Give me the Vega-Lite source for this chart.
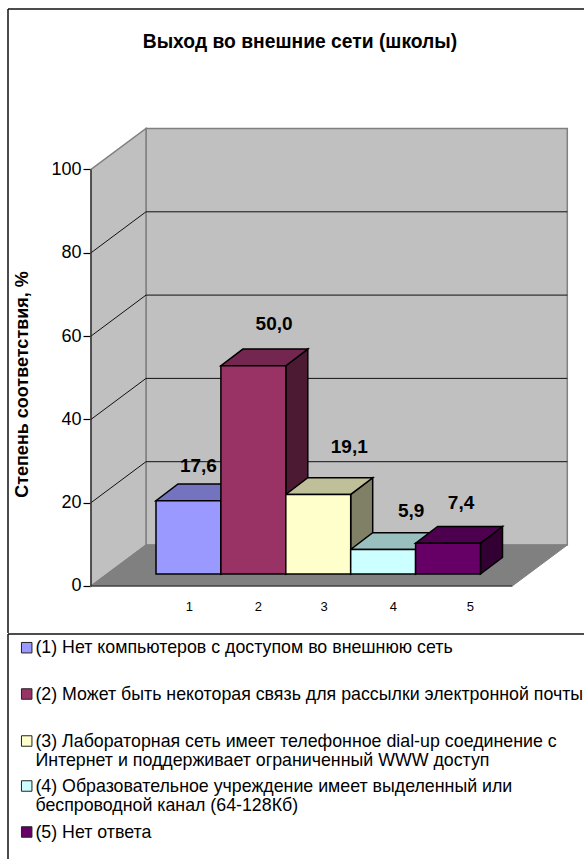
{
  "$schema": "https://vega.github.io/schema/vega-lite/v6.json",
  "padding": {"left": 7, "top": 8, "right": 0, "bottom": 0},
  "spacing": -1,
  "background": "white",
  "config": {"view": {"stroke": null}, "font": "Liberation Sans"},
  "datasets": {
    "responses": [
      {"category": 1, "value": 17.6, "text": "(1) Нет компьютеров с доступом во внешнюю сеть"},
      {"category": 2, "value": 50.0, "text": "(2) Может быть некоторая связь для рассылки электронной почты"},
      {"category": 3, "value": 19.1, "text": "(3) Лабораторная сеть имеет телефонное dial-up соединение с\nИнтернет и поддерживает ограниченный WWW доступ"},
      {"category": 4, "value": 5.9, "text": "(4) Образовательное учреждение имеет выделенный или\nбеспроводной канал (64-128Кб)"},
      {"category": 5, "value": 7.4, "text": "(5) Нет ответа"}
    ],
    "gridLevels": [{"level": 20}, {"level": 40}, {"level": 60}, {"level": 80}],
    "depthEnds": [{"end": 0}, {"end": 1}],
    "floorCorners": [{"corner": 0}, {"corner": 1}, {"corner": 2}, {"corner": 3}],
    "single": [{"n": 1}]
  },
  "vconcat": [
    {
      "width": 576,
      "height": 624,
      "title": {
        "text": "Выход во внешние сети (школы)",
        "font": "Liberation Sans",
        "fontSize": 19.3,
        "fontWeight": "bold",
        "color": "black",
        "anchor": "middle",
        "offset": -44,
        "dx": 4
      },
      "layer": [
        {
          "data": {"name": "single"},
          "transform": [
            {"calculate": "0.594", "as": "left"},
            {"calculate": "7.0855", "as": "right"},
            {"calculate": "9.844", "as": "low"},
            {"calculate": "109.844", "as": "high"}
          ],
          "mark": {"type": "rect", "fill": "#c0c0c0", "stroke": "#808080", "strokeWidth": 1.5},
          "encoding": {
            "x": {"field": "left", "type": "quantitative", "scale": {"domain": [-1.5324, 7.3428], "nice": false, "zero": false}, "axis": null},
            "x2": {"field": "right"},
            "y": {
              "field": "low",
              "type": "quantitative",
              "scale": {"domain": [-11.285, 138.535], "nice": false, "zero": false},
              "axis": {
                "values": [0, 20, 40, 60, 80, 100],
                "offset": -83,
                "orient": "left",
                "domain": false,
                "grid": false,
                "tickColor": "black",
                "tickSize": 8,
                "tickWidth": 1.2,
                "labelFontSize": 18,
                "labelColor": "black",
                "labelPadding": 2,
                "title": "Степень соответствия, %",
                "titleFontSize": 18,
                "titleFontWeight": "bold",
                "titleColor": "black",
                "titleX": -69,
                "titleY": 375,
                "titleAngle": -90,
                "titleAlign": "center",
                "titleBaseline": "middle"
              }
            },
            "y2": {"field": "high"}
          }
        },
        {
          "data": {"name": "depthEnds"},
          "transform": [
            {"calculate": "-0.2535 + datum.end * 0.8475", "as": "wallX"},
            {"calculate": "datum.end * 9.844", "as": "wallLow"},
            {"calculate": "100 + datum.end * 9.844", "as": "wallHigh"}
          ],
          "mark": {"type": "area", "fill": "#c0c0c0", "stroke": "#808080", "strokeWidth": 1.5},
          "encoding": {
            "x": {"field": "wallX", "type": "quantitative", "axis": null},
            "y": {"field": "wallLow", "type": "quantitative"},
            "y2": {"field": "wallHigh"}
          }
        },
        {
          "data": {"name": "floorCorners"},
          "transform": [
            {"calculate": "-0.2535 + (datum.corner >= 2 ? 6.4915 : 0) + (datum.corner % 2 ? 0.8475 : 0)", "as": "floorX"},
            {"calculate": "datum.corner == 3 ? 9.844 : 0", "as": "floorLow"},
            {"calculate": "datum.corner == 0 ? 0 : 9.844", "as": "floorHigh"}
          ],
          "mark": {"type": "area", "fill": "#808080", "stroke": "#808080", "strokeWidth": 1},
          "encoding": {
            "x": {"field": "floorX", "type": "quantitative", "axis": null},
            "y": {"field": "floorLow", "type": "quantitative"},
            "y2": {"field": "floorHigh"}
          }
        },
        {
          "data": {"name": "depthEnds"},
          "transform": [
            {"calculate": "[20, 40, 60, 80]", "as": "level"},
            {"flatten": ["level"]},
            {"calculate": "-0.2535 + datum.end * 0.8475", "as": "gridX"},
            {"calculate": "datum.level + datum.end * 9.844", "as": "gridY"}
          ],
          "mark": {"type": "line", "color": "#111111", "strokeWidth": 1},
          "encoding": {
            "x": {"field": "gridX", "type": "quantitative", "axis": null},
            "y": {"field": "gridY", "type": "quantitative"},
            "detail": {"field": "level"}
          }
        },
        {
          "data": {"name": "gridLevels"},
          "transform": [
            {"calculate": "datum.level + 9.844", "as": "backLevel"},
            {"calculate": "0.594", "as": "from"},
            {"calculate": "7.0855", "as": "to"}
          ],
          "mark": {"type": "rule", "color": "#111111", "strokeWidth": 1},
          "encoding": {
            "x": {"field": "from", "type": "quantitative", "axis": null},
            "x2": {"field": "to"},
            "y": {"field": "backLevel", "type": "quantitative"}
          }
        },
        {
          "data": {"name": "single"},
          "transform": [
            {"calculate": "-0.2535", "as": "frontLeft"},
            {"calculate": "0", "as": "zero"},
            {"calculate": "100", "as": "hundred"}
          ],
          "mark": {"type": "rule", "color": "#222222", "strokeWidth": 1.2},
          "encoding": {
            "x": {"field": "frontLeft", "type": "quantitative", "axis": null},
            "y": {"field": "zero", "type": "quantitative"},
            "y2": {"field": "hundred"}
          }
        },
        {
          "data": {"name": "single"},
          "transform": [
            {"calculate": "-0.2535", "as": "frontLeft"},
            {"calculate": "6.238", "as": "frontRight"},
            {"calculate": "0", "as": "zero"}
          ],
          "mark": {"type": "rule", "color": "#222222", "strokeWidth": 1.2},
          "encoding": {
            "x": {"field": "frontLeft", "type": "quantitative", "axis": null},
            "x2": {"field": "frontRight"},
            "y": {"field": "zero", "type": "quantitative"}
          }
        },
        {
          "data": {"name": "responses"},
          "transform": [
            {"calculate": "[0, 1]", "as": "end"},
            {"flatten": ["end"]},
            {"calculate": "datum.category + 0.5 + 0.248 + datum.end * 0.339", "as": "sideX"},
            {"calculate": "2.88 + datum.end * 4.01", "as": "sideLow"},
            {"calculate": "datum.value + 2.88 + datum.end * 4.01", "as": "sideHigh"},
            {"calculate": "datum.category + '|side'", "as": "shade"}
          ],
          "mark": {"type": "area", "stroke": "black", "strokeWidth": 1.5},
          "encoding": {
            "x": {"field": "sideX", "type": "quantitative", "axis": null},
            "y": {"field": "sideLow", "type": "quantitative"},
            "y2": {"field": "sideHigh"},
            "detail": {"field": "category"},
            "fill": {"field": "shade", "type": "nominal", "legend": null, "scale": {
              "domain": ["1|front", "2|front", "3|front", "4|front", "5|front", "1|top", "2|top", "3|top", "4|top", "5|top", "1|side", "2|side", "3|side", "4|side", "5|side"],
              "range": ["#9999ff", "#993366", "#ffffcc", "#ccffff", "#660066", "#7373bf", "#732650", "#bfbf99", "#99bfbf", "#4d004d", "#4d4d80", "#4d1a33", "#808066", "#668080", "#330033"]
            }}
          }
        },
        {
          "data": {"name": "responses"},
          "transform": [
            {"calculate": "[0, 1, 2, 3]", "as": "corner"},
            {"flatten": ["corner"]},
            {"calculate": "datum.category - 0.5 + 0.248 + (datum.corner >= 2 ? 1 : 0) + (datum.corner % 2 ? 0.339 : 0)", "as": "topX"},
            {"calculate": "datum.value + 2.88 + (datum.corner == 3 ? 4.01 : 0)", "as": "topLow"},
            {"calculate": "datum.value + 2.88 + (datum.corner == 0 ? 0 : 4.01)", "as": "topHigh"},
            {"calculate": "datum.category + '|top'", "as": "shade"}
          ],
          "mark": {"type": "area", "stroke": "black", "strokeWidth": 1.5},
          "encoding": {
            "x": {"field": "topX", "type": "quantitative", "axis": null},
            "y": {"field": "topLow", "type": "quantitative"},
            "y2": {"field": "topHigh"},
            "detail": {"field": "category"},
            "fill": {"field": "shade", "type": "nominal", "legend": null}
          }
        },
        {
          "data": {"name": "responses"},
          "transform": [
            {"calculate": "datum.category - 0.5 + 0.248", "as": "frontLeft"},
            {"calculate": "datum.category + 0.5 + 0.248", "as": "frontRight"},
            {"calculate": "2.88", "as": "frontBase"},
            {"calculate": "datum.value + 2.88", "as": "frontTop"},
            {"calculate": "datum.category + '|front'", "as": "shade"}
          ],
          "mark": {"type": "rect", "stroke": "black", "strokeWidth": 1.5},
          "encoding": {
            "x": {"field": "frontLeft", "type": "quantitative", "axis": null},
            "x2": {"field": "frontRight"},
            "y": {"field": "frontBase", "type": "quantitative"},
            "y2": {"field": "frontTop"},
            "fill": {"field": "shade", "type": "nominal", "legend": null}
          }
        },
        {
          "data": {"name": "responses"},
          "transform": [
            {"calculate": "datum.category + 0.248 + [0.154, 0.319, 0.478, 0.431, 0.2][datum.category - 1]", "as": "labelX"},
            {"calculate": "datum.value + 2.88 + [8.4, 10.08, 11.28, 9.12, 9.72][datum.category - 1]", "as": "labelY"},
            {"calculate": "replace(format(datum.value, '.1f'), '.', ',')", "as": "label"}
          ],
          "mark": {"type": "text", "fontSize": 19, "fontWeight": "bold", "color": "black", "align": "center", "baseline": "middle"},
          "encoding": {
            "x": {"field": "labelX", "type": "quantitative", "axis": null},
            "y": {"field": "labelY", "type": "quantitative"},
            "text": {"field": "label", "type": "nominal"}
          }
        },
        {
          "data": {"name": "responses"},
          "transform": [
            {"calculate": "[1.261, 2.324, 3.337, 4.404, 5.59][datum.category - 1]", "as": "tickX"},
            {"calculate": "-4.97", "as": "tickY"}
          ],
          "mark": {"type": "text", "fontSize": 13, "color": "black", "align": "center", "baseline": "middle"},
          "encoding": {
            "x": {"field": "tickX", "type": "quantitative", "axis": null},
            "y": {"field": "tickY", "type": "quantitative"},
            "text": {"field": "category", "type": "nominal"}
          }
        },
        {
          "data": {"name": "single"},
          "transform": [{"calculate": "-1.5324", "as": "edge"}],
          "mark": {"type": "rule", "color": "#111111", "strokeWidth": 1.5},
          "encoding": {"x": {"field": "edge", "type": "quantitative", "axis": null}}
        },
        {
          "data": {"name": "single"},
          "transform": [{"calculate": "138.535", "as": "edge"}],
          "mark": {"type": "rule", "color": "#111111", "strokeWidth": 1.5},
          "encoding": {"y": {"field": "edge", "type": "quantitative"}}
        }
      ]
    },
    {
      "width": 576,
      "height": 226,
      "layer": [
        {
          "data": {"name": "single"},
          "transform": [{"calculate": "0", "as": "edge"}],
          "mark": {"type": "rule", "color": "#111111", "strokeWidth": 1.5},
          "encoding": {
            "x": {"field": "edge", "type": "quantitative", "axis": null, "scale": {"domain": [0, 1, 2], "range": [0, 18.7, 27.4]}}
          }
        },
        {
          "data": {"name": "single"},
          "transform": [{"calculate": "0", "as": "edge"}],
          "mark": {"type": "rule", "color": "#111111", "strokeWidth": 1.5},
          "encoding": {
            "y": {"field": "edge", "type": "quantitative", "axis": null, "scale": {"domain": [0, 1, 2, 3, 4, 5], "range": [0, 13.7, 60, 107, 152, 198]}}
          }
        },
        {
          "data": {"name": "responses"},
          "transform": [{"calculate": "1", "as": "keyColumn"}],
          "mark": {"type": "point", "shape": "square", "filled": true, "size": 110, "stroke": "#222222", "strokeWidth": 1, "opacity": 1},
          "encoding": {
            "x": {"field": "keyColumn", "type": "quantitative", "axis": null},
            "y": {"field": "category", "type": "quantitative", "axis": null},
            "fill": {"field": "category", "type": "nominal", "legend": null, "scale": {"domain": [1, 2, 3, 4, 5], "range": ["#9999ff", "#993366", "#ffffcc", "#ccffff", "#660066"]}}
          }
        },
        {
          "data": {"name": "responses"},
          "transform": [{"calculate": "2", "as": "textColumn"}],
          "mark": {"type": "text", "fontSize": 17.8, "color": "black", "align": "left", "baseline": "alphabetic", "dy": 5.5, "lineBreak": "\n", "lineHeight": 19},
          "encoding": {
            "x": {"field": "textColumn", "type": "quantitative", "axis": null},
            "y": {"field": "category", "type": "quantitative", "axis": null},
            "text": {"field": "text", "type": "nominal"}
          }
        }
      ]
    }
  ]
}
